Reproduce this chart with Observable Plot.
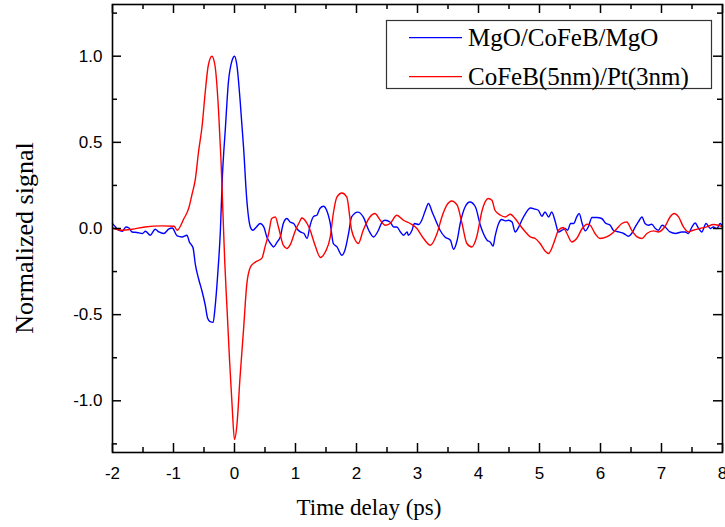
<!DOCTYPE html>
<html>
<head>
<meta charset="utf-8">
<script src="https://cdn.jsdelivr.net/npm/d3@7"></script>
<script src="https://cdn.jsdelivr.net/npm/@observablehq/plot@0.6"></script>
<style>
  html, body { margin: 0; padding: 0; background: #fff; }
  #chart { width: 725px; height: 527px; overflow: hidden; }
</style>
</head>
<body>
<div id="chart"></div>
<script>
// Series names
const seriesNames = ["MgO/CoFeB/MgO", "CoFeB(5nm)/Pt(3nm)"];
const seriesColors = ["#0000ff", "#ff0000"];

// MgO/CoFeB/MgO (blue): time (ps) and normalized signal
const timeBlue = [-2.00,-1.95,-1.90,-1.84,-1.78,-1.73,-1.68,-1.60,-1.51,-1.46,-1.38,-1.30,-1.24,-1.16,-1.08,-1.02,-0.94,-0.86,-0.78,-0.74,-0.68,-0.64,-0.59,-0.53,-0.48,-0.44,-0.40,-0.35,-0.32,-0.28,-0.23,-0.20,-0.15,-0.10,-0.04,0.00,0.04,0.09,0.15,0.20,0.26,0.30,0.36,0.42,0.48,0.53,0.59,0.64,0.70,0.75,0.80,0.86,0.91,0.97,1.02,1.08,1.14,1.19,1.24,1.30,1.35,1.40,1.46,1.51,1.57,1.62,1.68,1.76,1.81,1.87,1.92,2.02,2.11,2.20,2.28,2.36,2.42,2.47,2.55,2.61,2.66,2.72,2.77,2.83,2.85,2.91,2.95,3.02,3.07,3.13,3.18,3.24,3.32,3.37,3.45,3.54,3.59,3.65,3.70,3.78,3.86,3.95,4.03,4.08,4.14,4.19,4.24,4.27,4.33,4.38,4.44,4.49,4.55,4.60,4.66,4.71,4.77,4.85,4.93,4.98,5.04,5.09,5.15,5.20,5.26,5.31,5.37,5.42,5.46,5.51,5.56,5.61,5.65,5.70,5.75,5.80,5.86,5.94,6.02,6.08,6.16,6.21,6.30,6.38,6.46,6.51,6.57,6.62,6.68,6.73,6.79,6.84,6.90,6.95,7.01,7.06,7.14,7.23,7.33,7.39,7.44,7.50,7.55,7.61,7.66,7.73,7.80,7.85,7.91,7.96,8.00];
const valBlue = [0.029,0.009,-0.010,-0.016,0.009,0.003,-0.020,-0.023,-0.029,-0.016,-0.039,-0.004,-0.020,-0.029,-0.004,0.003,-0.043,-0.049,-0.039,-0.078,-0.112,-0.213,-0.290,-0.367,-0.444,-0.521,-0.541,-0.545,-0.463,-0.290,0.000,0.290,0.579,0.849,0.975,1.000,0.946,0.753,0.463,0.174,0.009,-0.010,0.009,0.029,0.009,-0.049,-0.087,-0.107,-0.078,-0.049,0.029,0.058,0.038,0.029,0.000,-0.020,-0.029,-0.058,0.019,0.071,0.077,0.116,0.129,0.106,0.029,-0.087,-0.107,-0.155,-0.126,-0.029,0.067,0.095,0.067,-0.010,-0.049,-0.010,0.038,0.048,0.038,0.009,0.009,-0.020,-0.039,-0.020,-0.039,-0.010,0.029,0.023,0.048,0.106,0.145,0.096,0.029,-0.010,-0.049,-0.068,-0.120,-0.068,0.029,0.125,0.154,0.125,0.019,-0.029,-0.068,-0.078,-0.102,-0.049,0.029,0.052,0.044,0.048,0.038,-0.020,0.009,0.048,0.087,0.119,0.112,0.106,0.071,0.096,0.067,0.096,0.038,-0.020,-0.010,0.000,-0.010,0.029,0.029,0.067,0.087,0.029,-0.014,0.009,0.064,0.064,0.058,0.032,0.019,-0.010,-0.020,-0.029,-0.045,-0.029,0.009,0.038,0.067,0.029,0.019,0.025,0.000,-0.010,0.019,0.009,-0.020,-0.029,-0.020,-0.020,-0.029,0.009,0.032,0.000,-0.020,0.029,0.000,0.009,0.000,0.029,0.009];

// CoFeB(5nm)/Pt(3nm) (red): time (ps) and normalized signal
const timeRed = [-2.00,-1.84,-1.68,-1.47,-1.19,-0.99,-0.94,-0.83,-0.75,-0.70,-0.64,-0.59,-0.53,-0.48,-0.43,-0.37,-0.32,-0.26,-0.22,-0.19,-0.16,-0.12,-0.08,-0.04,0.00,0.04,0.09,0.15,0.20,0.26,0.34,0.45,0.50,0.56,0.61,0.67,0.72,0.80,0.86,0.91,1.00,1.08,1.10,1.19,1.24,1.32,1.41,1.49,1.57,1.62,1.68,1.76,1.84,1.92,1.98,2.03,2.11,2.22,2.30,2.39,2.47,2.55,2.66,2.77,2.88,2.99,3.10,3.21,3.32,3.40,3.48,3.56,3.65,3.73,3.81,3.89,3.97,4.06,4.16,4.22,4.27,4.36,4.44,4.52,4.60,4.68,4.77,4.85,4.93,5.01,5.09,5.15,5.20,5.26,5.31,5.39,5.45,5.53,5.61,5.70,5.78,5.83,5.91,5.99,6.10,6.19,6.27,6.35,6.43,6.51,6.60,6.68,6.76,6.87,6.95,7.06,7.14,7.21,7.28,7.36,7.44,7.52,7.63,7.74,7.85,7.93,8.00];
const valRed = [0.003,-0.010,-0.004,0.009,0.015,0.013,-0.010,0.057,0.118,0.193,0.291,0.444,0.598,0.791,0.946,1.000,0.946,0.675,0.386,0.096,-0.193,-0.483,-0.772,-1.023,-1.225,-1.139,-0.867,-0.578,-0.329,-0.225,-0.195,-0.172,-0.107,-0.029,0.058,0.067,0.009,-0.097,-0.116,-0.097,-0.010,0.048,0.061,0.029,-0.010,-0.097,-0.168,-0.135,-0.049,0.087,0.183,0.206,0.183,-0.010,-0.068,-0.087,-0.010,0.067,0.087,0.048,0.019,0.029,0.077,0.048,0.029,0.000,-0.058,-0.097,-0.029,0.067,0.135,0.160,0.135,0.029,-0.087,-0.107,-0.049,0.106,0.174,0.164,0.106,0.077,0.067,0.083,0.058,0.019,-0.020,-0.049,-0.058,-0.087,-0.130,-0.145,-0.116,-0.058,-0.010,0.006,-0.029,-0.078,-0.058,0.000,0.025,0.019,-0.029,-0.058,-0.049,-0.029,0.000,0.029,0.038,-0.010,-0.049,-0.058,-0.029,-0.014,-0.020,0.013,0.067,0.087,0.067,0.009,-0.020,-0.010,0.000,0.009,0.023,0.019,0.009];

// Axis ticks
const xTicks = [-2, -1, 0, 1, 2, 3, 4, 5, 6, 7, 8];
const xMinorTicks = [-1.5, -0.5, 0.5, 1.5, 2.5, 3.5, 4.5, 5.5, 6.5, 7.5];
const yTicks = [-1.0, -0.5, 0.0, 0.5, 1.0];
const yMinorTicks = [-1.25, -0.75, -0.25, 0.25, 0.75, 1.25];
const xLabel = "Time delay (ps)";
const yLabel = "Normalized signal";

const data = [
  ...timeBlue.map((t, i) => ({t, v: valBlue[i], s: seriesNames[0]})),
  ...timeRed.map((t, i) => ({t, v: valRed[i], s: seriesNames[1]}))
];

const W = 725, H = 527;
const mL = 112, mR = 3, mT = 4, mB = 75;
const pw = W - mL - mR, ph = H - mT - mB;
const major = 9, minor = 5;

const chart = Plot.plot({
  width: W, height: H,
  marginLeft: mL, marginRight: mR, marginTop: mT, marginBottom: mB,
  style: {fontFamily: "'Liberation Sans', Arial, sans-serif", fontSize: "17px", color: "#000", background: "#fff", overflow: "hidden"},
  x: {domain: [-2, 8]},
  y: {domain: [-1.3, 1.3]},
  color: {domain: seriesNames, range: seriesColors},
  marks: [
    Plot.line(data, {x: "t", y: "v", z: "s", stroke: "s", strokeWidth: 1.4, curve: "monotone-x"}),
    // inward ticks
    Plot.tickX(xTicks, {x: d => d, insetTop: ph - major, stroke: "#000", strokeWidth: 1.5}),
    Plot.tickX(xTicks, {x: d => d, insetBottom: ph - major, stroke: "#000", strokeWidth: 1.5}),
    Plot.tickX(xMinorTicks, {x: d => d, insetTop: ph - minor, stroke: "#000", strokeWidth: 1.5}),
    Plot.tickX(xMinorTicks, {x: d => d, insetBottom: ph - minor, stroke: "#000", strokeWidth: 1.5}),
    Plot.tickY(yTicks, {y: d => d, insetRight: pw - major, stroke: "#000", strokeWidth: 1.5}),
    Plot.tickY(yTicks, {y: d => d, insetLeft: pw - major, stroke: "#000", strokeWidth: 1.5}),
    Plot.tickY(yMinorTicks, {y: d => d, insetRight: pw - minor, stroke: "#000", strokeWidth: 1.5}),
    Plot.tickY(yMinorTicks, {y: d => d, insetLeft: pw - minor, stroke: "#000", strokeWidth: 1.5}),
    Plot.axisX(xTicks, {tickSize: 0, tickPadding: 14, tickFormat: d => String(d), label: null}),
    Plot.axisY(yTicks, {tickSize: 0, tickPadding: 10, tickFormat: d => d.toFixed(1), label: null}),
    Plot.frame({stroke: "#000", strokeWidth: 1.6})
  ]
});

const svg = d3.select(chart);
const serif = "'Liberation Serif', 'Times New Roman', serif";
svg.append("text")
  .attr("x", 369)
  .attr("y", 515)
  .attr("text-anchor", "middle")
  .attr("font-family", serif).attr("font-size", 23).attr("fill", "#000")
  .text(xLabel);
svg.append("text")
  .attr("transform", "translate(33,238) rotate(-90)")
  .attr("text-anchor", "middle")
  .attr("font-family", serif).attr("font-size", 26).attr("fill", "#000")
  .text(yLabel);

// legend box
const lg = svg.append("g");
lg.append("rect").attr("x", 386.5).attr("y", 20.5).attr("width", 325).attr("height", 68)
  .attr("fill", "#fff").attr("stroke", "#333").attr("stroke-width", 1.2);
const rows = [37.7, 76.7];
seriesNames.forEach((name, i) => {
  lg.append("line").attr("x1", 409).attr("x2", 462).attr("y1", rows[i]).attr("y2", rows[i])
    .attr("stroke", seriesColors[i]).attr("stroke-width", 1.3);
  lg.append("text").attr("x", 468).attr("y", rows[i] + 8)
    .attr("text-anchor", "start")
    .attr("font-family", serif).attr("font-size", 25).attr("fill", "#000")
    .text(name);
});

document.getElementById("chart").appendChild(chart);
</script>
</body>
</html>
